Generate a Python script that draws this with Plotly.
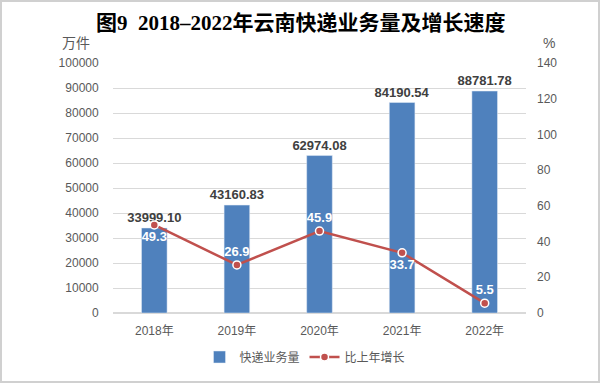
import plotly.graph_objects as go

years = ["2018年", "2019年", "2020年", "2021年", "2022年"]
volume = [33999.10, 43160.83, 62974.08, 84190.54, 88781.78]
growth = [49.3, 26.9, 45.9, 33.7, 5.5]
growth_text_pos = ["bottom center", "top center", "top center", "bottom center", "top center"]

FONT = "Liberation Sans, Noto Sans CJK SC, sans-serif"
L, R, T, B = 113, 526, 63, 313
W, H = R - L, B - T


def px(x):
    return (x - L) / W


def py(y):
    return (B - y) / H


fig = go.Figure()
fig.add_trace(go.Bar(
    x=years, y=volume, name="快递业务量",
    marker=dict(color="#4F81BD"),
    width=0.31,
    text=[f"{v:.2f}" for v in volume],
    textposition="outside",
    constraintext="none",
    textfont=dict(family=FONT, size=13, color="#404040", weight="bold"),
    cliponaxis=False,
))
fig.add_trace(go.Scatter(
    x=years, y=growth, name="比上年增长", yaxis="y2",
    mode="lines+markers+text",
    line=dict(color="#C0504D", width=2.5),
    marker=dict(color="#C0504D", size=8, line=dict(color="white", width=1.5)),
    text=[f"{v:.1f}" for v in growth],
    textposition=growth_text_pos,
    textfont=dict(family=FONT, size=13, color="white", weight="bold"),
    cliponaxis=False,
))

fig.update_layout(
    width=600, height=383,
    margin=dict(l=L, r=600 - R, t=T, b=383 - B, autoexpand=False),
    paper_bgcolor="white", plot_bgcolor="white",
    font=dict(family=FONT, size=12, color="#595959"),
    showlegend=True,
    legend=dict(orientation="h", x=px(305), xanchor="center", y=py(357), yanchor="middle",
                font=dict(size=12, color="#595959"), traceorder="normal"),
    xaxis=dict(showgrid=False, showline=False, ticks="", automargin=False, ticklabelstandoff=9,
               tickfont=dict(size=12, color="#595959")),
    yaxis=dict(range=[0, 100000], dtick=10000, showgrid=True, gridcolor="#D9D9D9",
               zeroline=True, zerolinecolor="#D9D9D9", tickformat="d", automargin=False,
               tickfont=dict(size=12, color="#595959"), ticksuffix="    "),
    yaxis2=dict(range=[0, 140], dtick=20, overlaying="y", side="right", showgrid=False,
                zeroline=False, automargin=False,
                tickfont=dict(size=12, color="#595959"), tickprefix="   "),
    bargap=0.69,
    annotations=[
        dict(text="图9  2018–2022年云南快递业务量及增长速度", x=px(301), y=py(23),
             xref="paper", yref="paper", xanchor="center", yanchor="middle", showarrow=False,
             font=dict(family="Liberation Serif, Noto Sans CJK SC", size=21, color="#000000", weight="bold")),
        dict(text="万件", x=px(76), y=py(43), xref="paper", yref="paper",
             xanchor="center", yanchor="middle", showarrow=False,
             font=dict(size=14, color="#595959")),
        dict(text="%", x=px(549), y=py(43), xref="paper", yref="paper",
             xanchor="center", yanchor="middle", showarrow=False,
             font=dict(size=14, color="#595959")),
    ],
    shapes=[dict(type="rect", xref="paper", yref="paper",
                 x0=px(1), x1=px(599), y0=py(382), y1=py(1),
                 line=dict(color="#D0D0D0", width=2))],
)

fig.write_html("out.html", config={"displayModeBar": False},
               post_script="document.body.style.margin='0';")
